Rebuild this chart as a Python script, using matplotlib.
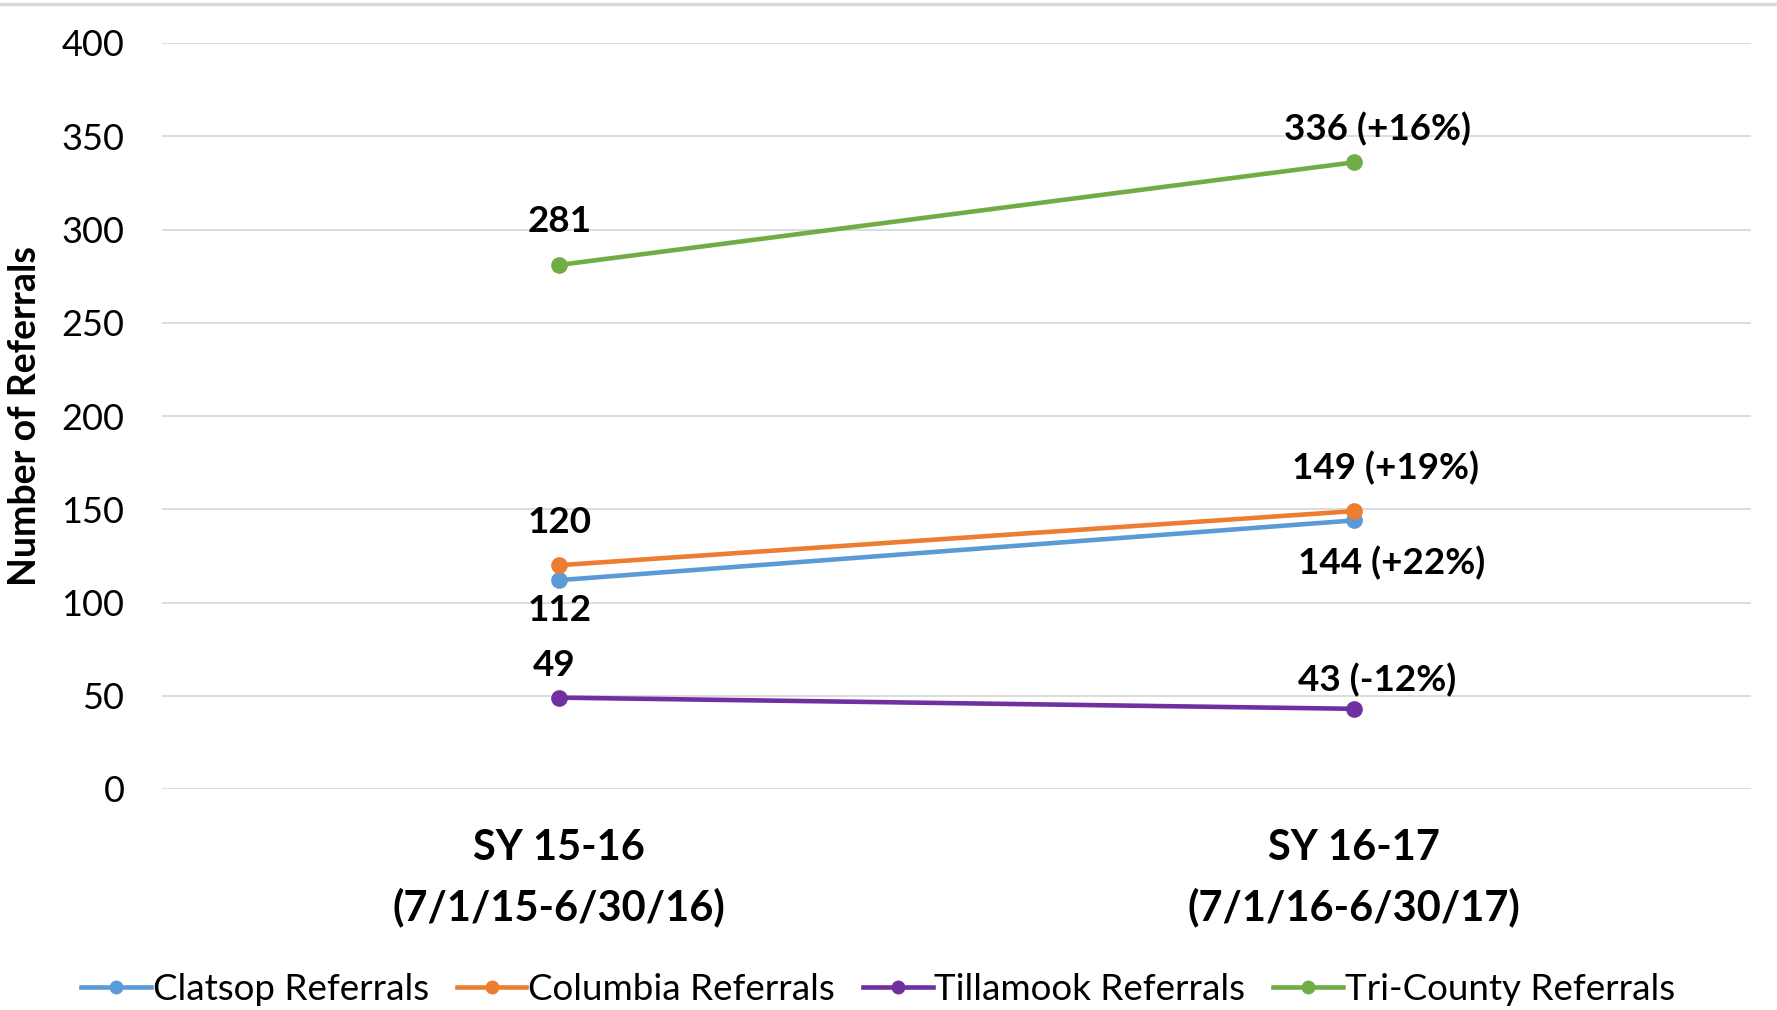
import matplotlib
matplotlib.use("Agg")
import matplotlib.pyplot as plt
from matplotlib.lines import Line2D

plt.rcParams['font.family'] = ['Lato', 'DejaVu Sans']

categories = ["SY 15-16\n(7/1/15-6/30/16)", "SY 16-17\n(7/1/16-6/30/17)"]
series_names = ["Clatsop Referrals", "Columbia Referrals", "Tillamook Referrals", "Tri-County Referrals"]
clatsop = [112, 144]
columbia = [120, 149]
tillamook = [49, 43]
tricounty = [281, 336]
labels_clatsop = ["112", "144 (+22%)"]
labels_columbia = ["120", "149 (+19%)"]
labels_tillamook = ["49", "43 (-12%)"]
labels_tricounty = ["281", "336 (+16%)"]
yticks = [0, 50, 100, 150, 200, 250, 300, 350, 400]

colors = ["#5B9BD5", "#ED7D31", "#7030A0", "#70AD47"]

fig = plt.figure(figsize=(17.77, 10.10), dpi=100)
ax = fig.add_axes([162/1777, 1-789/1010, (1751-162)/1777, (789-43)/1010])

x = list(range(len(categories)))
all_series = [clatsop, columbia, tillamook, tricounty]
all_labels = [labels_clatsop, labels_columbia, labels_tillamook, labels_tricounty]
# label offsets in points for each series/point
offsets = [
    [(0, -22), (27, -31)],
    [(0, 31), (23, 31)],
    [(-4, 23), (17, 21)],
    [(0, 31), (17, 24)],
]
for vals, labs, col, name, offs in zip(all_series, all_labels, colors, series_names, offsets):
    ax.plot(x, vals, color=col, lw=3.3, marker='o', markersize=11, label=name, zorder=3)
    for xi, v, lab, off in zip(x, vals, labs, offs):
        ax.annotate(lab, (xi, v), xytext=off, textcoords='offset points',
                    ha='center', va='center', fontsize=26.5, fontweight='bold', color='black')

ax.set_xlim(-0.5, 1.5)
ax.set_ylim(0, 400)
ax.set_yticks(yticks)
ax.set_yticklabels([str(t) for t in yticks], fontsize=26)
ax.set_xticks(x)
ax.set_xticklabels(categories, fontsize=30, fontweight='bold', linespacing=1.62)
ax.tick_params(axis='y', length=0, pad=27)
ax.tick_params(axis='x', length=0, pad=29)
for s in ax.spines.values():
    s.set_visible(False)
ax.grid(axis='y', color='#D9D9D9', lw=1.3, zorder=0)
ax.set_axisbelow(True)

fig.text(25/1777, 1-416/1010, "Number of Referrals", rotation=90, ha='center', va='center',
         fontsize=27, fontweight='bold')

handles = [Line2D([0], [0], color=c, lw=3.3, marker='o', markersize=9) for c in colors]
fig.legend(handles, series_names, loc='center', bbox_to_anchor=(878/1777, 1-989/1010),
           ncol=4, frameon=False, fontsize=26.5, handlelength=1.9, handletextpad=0.05,
           columnspacing=0.75)

fig.add_artist(Line2D([0, 1], [1-4/1010, 1-4/1010], color='#D9D9D9', lw=2.5, transform=fig.transFigure))

fig.savefig("out.png", dpi=100)
